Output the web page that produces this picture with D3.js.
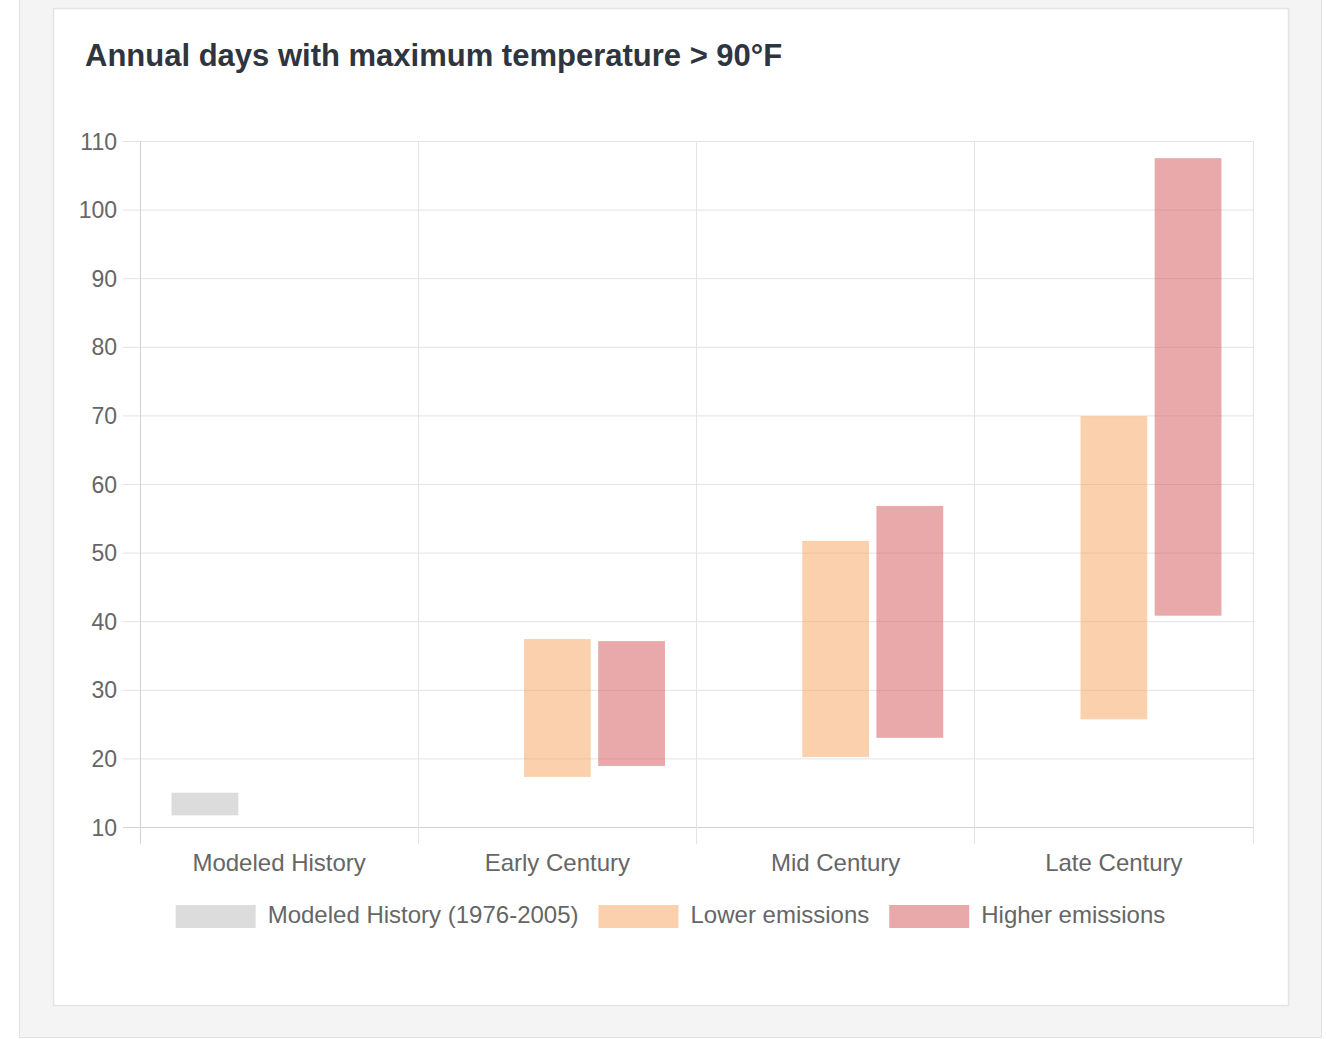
<!DOCTYPE html>
<html>
<head>
<meta charset="utf-8">
<script src="https://cdn.jsdelivr.net/npm/d3@7"></script>
<style>
  html, body { margin: 0; padding: 0; background: #ffffff; }
  svg { display: block; font-family: "Liberation Sans", Arial, sans-serif; }
</style>
</head>
<body>
<svg id="chart" width="1326" height="1039"></svg>
<script>
// Periods shown along the x axis
const periods = ["Modeled History", "Early Century", "Mid Century", "Late Century"];
// Series (legend order)
const seriesNames = ["Modeled History (1976-2005)", "Lower emissions", "Higher emissions"];
const seriesColors = ["rgba(185,185,185,0.5)", "rgba(247,163,92,0.5)", "rgba(211,84,87,0.5)"];
// Floating ranges [low, high] of annual days > 90°F; null where a series has no value
const historyRange = [[11.7, 15.0], null, null, null];
const lowerRange   = [null, [17.3, 37.4], [20.2, 51.7], [25.7, 69.9]];
const higherRange  = [null, [18.9, 37.1], [23.0, 56.8], [40.8, 107.5]];
const yTicks = [10, 20, 30, 40, 50, 60, 70, 80, 90, 100, 110];
const titleText = "Annual days with maximum temperature > 90°F";

const seriesData = [historyRange, lowerRange, higherRange];

const svg = d3.select("#chart");

// Page frame: gray panel with a white card inside
svg.append("rect").attr("x", 19.5).attr("y", -1).attr("width", 1302).attr("height", 1038.5)
  .attr("fill", "#f4f4f4").attr("stroke", "#e2e2e2").attr("stroke-width", 1);
svg.append("rect").attr("x", 53.5).attr("y", 8.5).attr("width", 1235).attr("height", 997)
  .attr("fill", "#ffffff").attr("stroke", "#e4e4e4").attr("stroke-width", 1.5);

// Title
svg.append("text").attr("x", 85).attr("y", 66)
  .attr("font-size", 31).attr("font-weight", "bold").attr("fill", "#2f3540")
  .text(titleText);

// Plot area
const plot = { left: 140, right: 1253, top: 141, bottom: 827 };
const tickLen = 17;

const x0 = d3.scaleBand().domain(periods).range([plot.left, plot.right]).paddingInner(0).paddingOuter(0);
const bw = x0.bandwidth();
const x1 = d3.scaleBand().domain(d3.range(seriesNames.length))
  .range([bw * 0.1, bw * 0.9]).paddingInner(0.1).paddingOuter(0.05);
const y = d3.scaleLinear().domain([10, 110]).range([plot.bottom, plot.top]);

const gridColor = "#e3e3e3";
const axisColor = "#d2d2d2";

// Horizontal grid lines + y ticks
const yAxis = d3.axisLeft(y).tickValues(yTicks).tickSize(tickLen).tickPadding(6).tickFormat(d3.format("d"));
const gy = svg.append("g").attr("transform", `translate(${plot.left},0)`).call(yAxis);
gy.select(".domain").remove();
gy.selectAll(".tick line").attr("stroke", d => d === 10 ? axisColor : gridColor)
  .attr("x2", -tickLen).attr("x1", plot.right - plot.left);
gy.selectAll(".tick text").attr("font-size", 23).attr("fill", "#666").attr("font-family", null)
  .attr("x", -23).attr("dy", "0.35em");

// Vertical grid lines at category boundaries
const boundaries = periods.map(p => x0(p)).concat([plot.right]);
svg.append("g").selectAll("line").data(boundaries).join("line")
  .attr("x1", d => d).attr("x2", d => d)
  .attr("y1", plot.top).attr("y2", plot.bottom + tickLen)
  .attr("stroke", (d, i) => i === 0 ? axisColor : gridColor).attr("stroke-width", 1)
  .attr("shape-rendering", "crispEdges");

// x-axis category labels
const xAxis = d3.axisBottom(x0).tickSize(0).tickPadding(0);
const gx = svg.append("g").attr("transform", `translate(0,${plot.bottom})`).call(xAxis);
gx.select(".domain").remove();
gx.selectAll(".tick text").attr("font-size", 24).attr("fill", "#666").attr("font-family", null)
  .attr("y", 44).attr("dy", 0);

// Floating bars
const groups = svg.append("g").selectAll("g").data(seriesData).join("g")
  .attr("fill", (d, i) => seriesColors[i]);
groups.each(function (ranges, si) {
  d3.select(this).selectAll("rect")
    .data(ranges.map((r, ci) => ({ r, ci })).filter(d => d.r))
    .join("rect")
    .attr("x", d => x0(periods[d.ci]) + x1(si))
    .attr("width", x1.bandwidth())
    .attr("y", d => y(d.r[1]))
    .attr("height", d => y(d.r[0]) - y(d.r[1]));
});

// Legend centered in the card
const legend = svg.append("g");
const boxW = 80, boxH = 23, gap = 12, itemGap = 20;
const items = legend.selectAll("g").data(seriesNames).join("g");
items.append("rect").attr("width", boxW).attr("height", boxH).attr("y", 905)
  .attr("fill", (d, i) => seriesColors[i]);
items.append("text").attr("x", boxW + gap).attr("y", 923)
  .attr("font-size", 24).attr("fill", "#666").text(d => d);
let widths = [];
items.each(function () { widths.push(boxW + gap + this.querySelector("text").getComputedTextLength()); });
const total = d3.sum(widths) + itemGap * (widths.length - 1);
let cx = 670.5 - total / 2;
items.attr("transform", (d, i) => { const t = `translate(${cx},0)`; cx += widths[i] + itemGap; return t; });
</script>
</body>
</html>
